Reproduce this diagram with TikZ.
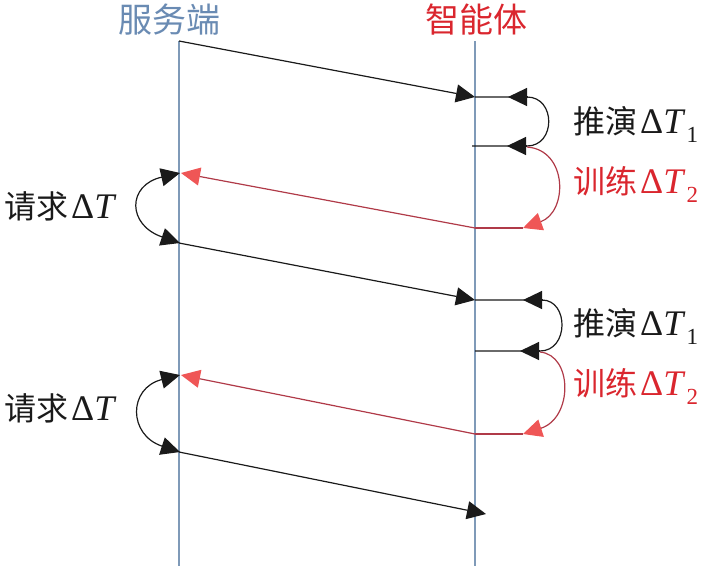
\documentclass[tikz,border=0pt]{standalone}
\usepackage[no-math]{fontspec}
\newfontfamily\cjk{Noto Sans CJK SC}
\newfontfamily\tms{Liberation Serif}
\usetikzlibrary{arrows.meta}
\definecolor{lifeblue}{HTML}{7F9AB8}
\definecolor{titleblue}{HTML}{6A8BB3}
\definecolor{titlered}{HTML}{DA262E}
\definecolor{linered}{HTML}{B03A48}
\definecolor{headred}{HTML}{EF5656}
\definecolor{ink}{HTML}{1A1A1A}
\newcommand{\dT}[1]{{\tms\fontsize{36}{40}\selectfont\kern3pt Δ\textit{T}\kern1pt\raisebox{-9pt}{\fontsize{23}{23}\selectfont #1}}}
\begin{document}
\begin{tikzpicture}[x=1pt,y=-1pt,
  lifeline/.style={draw=lifeblue,line width=1.1pt},
  msg/.style={draw=ink,line width=1.2pt,-{Triangle[length=19pt,width=18pt]}},
  loopblk/.style={draw=ink,line width=1.2pt},
  bothheads/.style={draw=ink,line width=1.2pt,{Triangle[length=19pt,width=18pt]}-{Triangle[length=19pt,width=18pt]}},
  redmsg/.style={draw=linered,line width=1.2pt,-{Triangle[length=19pt,width=18pt,color=headred]}},
  redline/.style={draw=linered,line width=1.2pt},
  head/.style={draw=ink,line width=1.2pt,-{Triangle[length=19pt,width=18pt]}},
  title/.style={font=\cjk\fontsize{34}{40}\selectfont,inner sep=0pt},
  lbl/.style={font=\cjk\fontsize{32}{36}\selectfont,inner sep=0pt,anchor=base west},
]
\useasboundingbox (0,0) rectangle (716,566);

% titles
\node[title,text=titleblue] (srvtitle) at (169,20) {服务端};
\node[title,text=titlered] (agttitle) at (476,20) {智能体};

% lifelines
\coordinate (s0) at (179,41);
\coordinate (s1) at (179,566);
\coordinate (a0) at (475,41);
\coordinate (a1) at (475,566);
\draw[lifeline] (s0) -- (s1);
\draw[lifeline] (a0) -- (a1);

% ---- cycle 1 ----
\coordinate (m1e) at (475,97);
\draw[msg] (s0) -- (m1e);
\coordinate (p1) at (527,97);
\coordinate (p1t) at (508,97);
\coordinate (p2) at (527,146);
\coordinate (p2t) at (507,146);
\coordinate (p2l) at (472,146);
\draw[loopblk] (m1e) -- (p1) .. controls (556,97) and (556,146) .. (p2) -- (p2l);
\draw[head] (p1) -- (p1t);
\draw[head] (p2) -- (p2t);
\coordinate (r1s) at (527,147);
\coordinate (r1e) at (523,228);
\coordinate (r1a) at (475,228);
\draw[redline,-{Triangle[length=19pt,width=18pt,color=headred]}] (r1s) .. controls (568,150) and (568,212) .. (r1e);
\draw[redline] (r1e) -- (r1a);
\coordinate (r1t) at (181,173);
\draw[redmsg] (r1a) -- (r1t);
\coordinate (q1b) at (180,243);
\coordinate (q1t) at (180,173);
\draw[bothheads] (q1b) .. controls (127,225) and (127,185) .. (q1t);

% ---- cycle 2 ----
\coordinate (m2s) at (179,243);
\coordinate (m2e) at (475,300);
\draw[msg] (m2s) -- (m2e);
\coordinate (p3) at (542,300);
\coordinate (p3t) at (523,300);
\coordinate (p4) at (540,351);
\coordinate (p4t) at (520,351);
\coordinate (p4l) at (475,351);
\draw[loopblk] (m2e) -- (p3) .. controls (569,300) and (569,351) .. (p4) -- (p4l);
\draw[head] (p3) -- (p3t);
\draw[head] (p4) -- (p4t);
\coordinate (r2s) at (540,352);
\coordinate (r2e) at (523,434);
\coordinate (r2a) at (475,434);
\draw[redline,-{Triangle[length=19pt,width=18pt,color=headred]}] (r2s) .. controls (573,355) and (573,418) .. (r2e);
\draw[redline] (r2e) -- (r2a);
\coordinate (r2t) at (181,375);
\draw[redmsg] (r2a) -- (r2t);
\coordinate (q2b) at (180,452);
\coordinate (q2t) at (180,375);
\draw[bothheads] (q2b) .. controls (128,435) and (128,388) .. (q2t);

% ---- final request ----
\coordinate (m3s) at (179,452);
\coordinate (m3e) at (486,514);
\draw[msg] (m3s) -- (m3e);

% labels
\node[lbl,text=ink] (inf1) at (573,133) {推演\dT{1}};
\node[lbl,text=titlered] (trn1) at (573,193) {训练\dT{2}};
\node[lbl,text=ink] (inf2) at (573,335) {推演\dT{1}};
\node[lbl,text=titlered] (trn2) at (573,395) {训练\dT{2}};
\node[lbl,text=ink] (req1) at (4,218) {请求\dT{}};
\node[lbl,text=ink] (req2) at (4,420) {请求\dT{}};
\end{tikzpicture}
\end{document}
